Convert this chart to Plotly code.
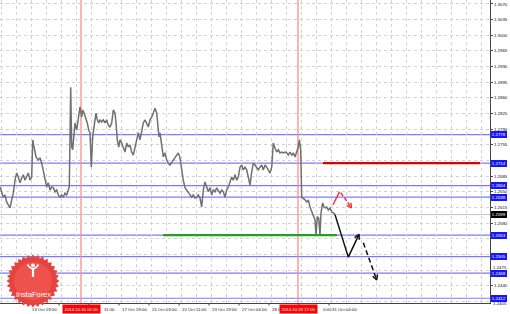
import numpy as np
import plotly.graph_objects as go

# ---------------- data ----------------
price_x = [
    0, 1.7, 3.3, 5, 6.7, 8.3, 10, 11.7, 13.3, 15,
    16.7, 18.3, 20, 21.7, 23.3, 25, 26.7, 28.3, 30, 31.7,
    32.7, 34, 36, 38.3, 40, 41.7, 43.3, 45, 46.7, 48.3,
    50, 51.7, 53.3, 55, 56.7, 58.3, 60, 61.7, 63.3, 65,
    66.7, 68.3, 69.3, 70.7, 71.7, 72.7, 74, 75, 76.7, 78.3,
    80, 81.7, 82.7, 84, 86, 87.3, 88.7, 90, 91.3, 92.7,
    94, 96, 97.3, 98.7, 100, 101.7, 103.3, 105, 106.7, 108.3,
    110, 111.7, 113.3, 115, 116, 117.3, 118.7, 120, 121.7, 123.3,
    125, 126.7, 128.3, 130, 131.7, 133.3, 135, 136.7, 138.3, 140,
    141.7, 143.3, 145, 146.7, 148.3, 150, 151.7, 153.3, 155, 156.7,
    157.7, 159, 160, 161.7, 163.3, 165, 166.7, 168.3, 170, 173.3,
    176.7, 178.3, 180, 181.7, 183.3, 185, 186.7, 188.3, 190, 191.7,
    193.3, 195, 196.7, 198.3, 200, 201.7, 203.3, 205, 206.7, 208.3,
    210, 211.7, 213.3, 215, 216.7, 218.3, 220, 221.7, 223.3, 225,
    226.7, 228.3, 230, 231.7, 233.3, 235, 236.7, 238.3, 240, 241.7,
    243.3, 245, 246.7, 248.3, 250, 251.7, 253.3, 255, 256.7, 258.3,
    260, 261.7, 263.3, 265, 266.7, 268.3, 270, 271.7, 273.3, 275,
    276.7, 278.3, 280, 281.7, 283.3, 285, 286.7, 288.3, 290, 291.7,
    293.3, 295, 296.7, 298.3, 299.3, 300.7, 301.7, 303.3, 305, 306.7,
    308.3, 310, 311.7, 313.3, 315, 316, 317.3, 318.7, 320, 321,
    322.7, 324, 325.3, 326.7, 328.3, 330, 331.7, 333.3, 335,
]
price_y = [
    1.2661, 1.2650, 1.2638, 1.2643, 1.2627, 1.2621, 1.2614, 1.2632, 1.2647, 1.2676,
    1.2692, 1.2683, 1.2670, 1.2681, 1.2688, 1.2676, 1.2683, 1.2692, 1.2676, 1.2683,
    1.2766, 1.2750, 1.2728, 1.2721, 1.2726, 1.2714, 1.2699, 1.2676, 1.2661, 1.2670,
    1.2654, 1.2661, 1.2659, 1.2650, 1.2654, 1.2643, 1.2638, 1.2643, 1.2638, 1.2647,
    1.2643, 1.2654, 1.2661, 1.2884, 1.2750, 1.2744, 1.2782, 1.2804, 1.2788, 1.2817,
    1.2840, 1.2817, 1.2833, 1.2826, 1.2815, 1.2804, 1.2788, 1.2782, 1.2705, 1.2773,
    1.2795, 1.2826, 1.2811, 1.2804, 1.2811, 1.2806, 1.2811, 1.2804, 1.2811, 1.2799,
    1.2795, 1.2804, 1.2833, 1.2826, 1.2804, 1.2766, 1.2750, 1.2766, 1.2759, 1.2750,
    1.2739, 1.2759, 1.2750, 1.2755, 1.2739, 1.2732, 1.2750, 1.2773, 1.2782, 1.2766,
    1.2788, 1.2804, 1.2811, 1.2804, 1.2795, 1.2811, 1.2817, 1.2826, 1.2837, 1.2826,
    1.2804, 1.2773, 1.2782, 1.2759, 1.2728, 1.2737, 1.2721, 1.2714, 1.2710, 1.2721,
    1.2732, 1.2737, 1.2726, 1.2694, 1.2676, 1.2659, 1.2654, 1.2647, 1.2643, 1.2638,
    1.2643, 1.2636, 1.2638, 1.2643, 1.2636, 1.2616, 1.2654, 1.2672, 1.2661, 1.2650,
    1.2659, 1.2643, 1.2654, 1.2650, 1.2659, 1.2654, 1.2647, 1.2654, 1.2650, 1.2638,
    1.2654, 1.2661, 1.2672, 1.2683, 1.2676, 1.2688, 1.2676, 1.2683, 1.2705, 1.2710,
    1.2699, 1.2705, 1.2699, 1.2683, 1.2665, 1.2694, 1.2714, 1.2710, 1.2705, 1.2699,
    1.2705, 1.2710, 1.2699, 1.2710, 1.2705, 1.2699, 1.2692, 1.2705, 1.2759, 1.2748,
    1.2739, 1.2744, 1.2737, 1.2739, 1.2737, 1.2739, 1.2737, 1.2732, 1.2739, 1.2732,
    1.2737, 1.2728, 1.2739, 1.2750, 1.2766, 1.2744, 1.2638, 1.2636, 1.2632, 1.2627,
    1.2632, 1.2616, 1.2605, 1.2594, 1.2587, 1.2553, 1.2594, 1.2591, 1.2553, 1.2603,
    1.2625, 1.2616, 1.2614, 1.2616, 1.2609, 1.2614, 1.2605, 1.2603, 1.2599,
]
assert len(price_x) == len(price_y)

# right-axis ticks (labels hidden behind level boxes are left blank, as in the reference)
tick_values = [1.3070, 1.3035, 1.3000, 1.2965, 1.2930, 1.2895, 1.2860, 1.2825,
               1.2790, 1.2755, 1.2720, 1.2685, 1.2650, 1.2615, 1.2580, 1.2545,
               1.2510, 1.2475, 1.2440, 1.2405]
tick_labels = ["1.3070", "1.3035", "1.3000", "1.2965", "1.2930", "1.2895", "1.2860",
               "1.2825", "1.2790", "1.2755", "", "1.2685", "1.2650", "1.2615",
               "1.2580", "", "", "", "1.2440", ""]
# tick labels squeezed next to level boxes, nudged a little (value, label, pixel nudge)
nudged_ticks = [1.2475, 1.2405]
nudged_labels = ["1.2475", "1.2405"]
nudged_shift = [2.2, -2.2]

level_values = [1.2778, 1.2714, 1.2664, 1.2638, 1.2553, 1.2505, 1.2468, 1.2412]
level_labels = ["1.2778", "1.2714", "1.2664", "1.2638", "1.2553", "1.2505", "1.2468", "1.2412"]
current_price = 1.2599
current_label = "1.2599"

resistance = 1.2714
resistance_x = [323, 480]
support = 1.2553
support_x = [163, 337]

# time-axis labels (only the parts not covered by the red boxes are visible)
time_pos = [-1, 29, 101, 119, 149, 179, 209, 239, 269, 320, 329]
time_labels = ["10 Oct 11:00", "13 Oct 19:00", "11:00", "17 Oct 19:00",
               "21 Oct 03:00", "22 Oct 11:00", "23 Oct 19:00", "27 Oct 04:00",
               "28 O", "0:00", "31 Oct 04:00"]
tickmark_pos = [-1, 29, 59, 89, 119, 149, 179, 209, 239, 269, 299, 329]
vline_x = [81, 298]
vline_labels = ["2014.10.16 02:00", "2014.10.29 17:00"]

fc_black_solid_x = [335, 348.3, 359]
fc_black_solid_y = [1.2599, 1.2504, 1.2555]
fc_black_dash_x = [363.3, 376.7]
fc_black_dash_y = [1.2536, 1.2453]
fc_red_solid_x = [333, 339.5]
fc_red_solid_y = [1.2621, 1.2650]
fc_red_dash_x = [340.8, 351.5]
fc_red_dash_y = [1.2648, 1.2614]

# ---------------- geometry helpers ----------------
W, H = 510, 314
ML, MR, MT, MB = 0, 20, 0, 11
PW, PH = W - ML - MR, H - MT - MB
X_MIN, X_MAX = 0, 490
Y_MIN, Y_MAX = 1.24014, 1.30789
FONT = "Liberation Sans"


def to_px(x, y):
    return (x - X_MIN) / (X_MAX - X_MIN) * PW, (Y_MAX - y) / (Y_MAX - Y_MIN) * PH


def from_px(px, py):
    return X_MIN + px / PW * (X_MAX - X_MIN), Y_MAX - py / PH * (Y_MAX - Y_MIN)


def head(x0, y0, x1, y1, L=5.5, ang=28):
    p0 = np.array(to_px(x0, y0))
    p1 = np.array(to_px(x1, y1))
    d = p1 - p0
    d = d / np.linalg.norm(d)
    pts = []
    for s in (1, -1):
        a = np.radians(ang * s)
        r = np.array([d[0] * np.cos(a) - d[1] * np.sin(a),
                      d[0] * np.sin(a) + d[1] * np.cos(a)])
        pts.append(from_px(*(p1 - L * r)))
    return [pts[0][0], x1, pts[1][0]], [pts[0][1], y1, pts[1][1]]


def pxp(px, py):  # pixel -> paper
    return px / PW, 1 - py / PH


fig = go.Figure()

fig.add_trace(go.Scatter(x=price_x, y=price_y, mode="lines",
                         line=dict(color="#707070", width=1.5), hoverinfo="skip"))
fig.add_trace(go.Scatter(x=support_x, y=[support, support], mode="lines",
                         line=dict(color="#22a022", width=2.2)))
fig.add_trace(go.Scatter(x=resistance_x, y=[resistance, resistance], mode="lines",
                         line=dict(color="#dd0000", width=2.2)))

BLK = "#111111"
RED = "#ff2a2a"
fig.add_trace(go.Scatter(x=fc_black_solid_x, y=fc_black_solid_y, mode="lines",
                         line=dict(color=BLK, width=1.5)))
hx, hy = head(fc_black_solid_x[-2], fc_black_solid_y[-2], fc_black_solid_x[-1], fc_black_solid_y[-1])
fig.add_trace(go.Scatter(x=hx, y=hy, mode="lines", line=dict(color=BLK, width=1.5)))
fig.add_trace(go.Scatter(x=fc_black_dash_x, y=fc_black_dash_y, mode="lines",
                         line=dict(color=BLK, width=1.5, dash="5px,3px")))
hx, hy = head(fc_black_dash_x[0], fc_black_dash_y[0], fc_black_dash_x[1], fc_black_dash_y[1])
fig.add_trace(go.Scatter(x=hx, y=hy, mode="lines", line=dict(color=BLK, width=1.5)))

fig.add_trace(go.Scatter(x=fc_red_solid_x, y=fc_red_solid_y, mode="lines",
                         line=dict(color=RED, width=1.4)))
fig.add_trace(go.Scatter(x=fc_red_dash_x, y=fc_red_dash_y, mode="lines",
                         line=dict(color=RED, width=1.4, dash="4px,2px")))
hx, hy = head(fc_red_dash_x[0], fc_red_dash_y[0], fc_red_dash_x[1], fc_red_dash_y[1], L=5)
fig.add_trace(go.Scatter(x=hx, y=hy, mode="lines", line=dict(color=RED, width=1.4)))

shapes = []
for v in level_values:
    shapes.append(dict(type="line", xref="paper", yref="y", x0=0, x1=1, y0=v, y1=v,
                       line=dict(color="#7a7aff", width=1.2), layer="between"))
shapes.append(dict(type="line", xref="paper", yref="y", x0=0, x1=1,
                   y0=current_price, y1=current_price,
                   line=dict(color="#c4c4c4", width=1), layer="between"))
for vx in vline_x:
    shapes.append(dict(type="line", xref="x", yref="paper", x0=vx, x1=vx, y0=0, y1=1,
                       line=dict(color="#ff8a8a", width=1.3), layer="between"))
for tx in tickmark_pos:
    shapes.append(dict(type="line", xref="x", yref="paper", x0=tx, x1=tx, y0=0,
                       y1=-2.5 / PH, line=dict(color="#444", width=1)))

# logo
cx, cy, R, r, N = 33, 281, 26.5, 23.5, 32
pts = []
for i in range(2 * N):
    rad = R if i % 2 == 0 else r
    a = np.pi * i / N
    pts.append(pxp(cx + rad * np.cos(a), cy + rad * np.sin(a)))
path = "M " + " L ".join(f"{p[0]:.5f},{p[1]:.5f}" for p in pts) + " Z"
shapes.append(dict(type="path", xref="paper", yref="paper", path=path,
                   fillcolor="#e4443f", line=dict(width=0), layer="above"))
c0 = pxp(cx - 19, cy - 19)
c1 = pxp(cx + 19, cy + 19)
shapes.append(dict(type="circle", xref="paper", yref="paper", x0=c0[0], x1=c1[0],
                   y0=c0[1], y1=c1[1], fillcolor="rgba(245,95,90,0.55)",
                   line=dict(width=0), layer="above"))
h0 = pxp(cx - 2, 263.5)
h1 = pxp(cx + 2, 267.5)
shapes.append(dict(type="circle", xref="paper", yref="paper", x0=h0[0], x1=h1[0],
                   y0=h0[1], y1=h1[1], fillcolor="white", line=dict(width=0), layer="above"))
a1 = pxp(cx - 5.5, 264.5)
a2 = pxp(cx, 273)
a3 = pxp(cx + 5.5, 264.5)
shapes.append(dict(type="path", xref="paper", yref="paper",
                   path=f"M {a1[0]},{a1[1]} Q {a2[0]},{a2[1]} {a3[0]},{a3[1]}",
                   line=dict(color="white", width=1.6), layer="above"))
b1 = pxp(cx, 269)
b2 = pxp(cx, 277)
shapes.append(dict(type="line", xref="paper", yref="paper", x0=b1[0], x1=b2[0],
                   y0=b1[1], y1=b2[1], line=dict(color="white", width=2.2), layer="above"))

annotations = []
for v, t, s in zip(nudged_ticks, nudged_labels, nudged_shift):
    annotations.append(dict(x=1, xref="paper", y=v, yref="y", xanchor="left", yanchor="middle",
                            xshift=2.5, yshift=s, text=t, showarrow=False, borderpad=0,
                            borderwidth=0,
                            font=dict(family=FONT, size=4.4, color="#111")))
for v, t in zip(level_values, level_labels):
    annotations.append(dict(x=1, xref="paper", y=v, yref="y", xanchor="left", yanchor="middle",
                            xshift=1, text=t, showarrow=False, bgcolor="#1414ff",
                            borderpad=0.8, borderwidth=0,
                            font=dict(family=FONT, size=4.4, color="white")))
annotations.append(dict(x=1, xref="paper", y=current_price, yref="y", xanchor="left",
                        yanchor="middle", xshift=1, text=current_label, showarrow=False,
                        bgcolor="#000000", borderpad=0.8, borderwidth=0,
                        font=dict(family=FONT, size=4.4, color="white")))
ty = 1 - 309 / PH
for tx, t in zip(time_pos, time_labels):
    annotations.append(dict(x=tx + 0.5, xref="x", y=ty, yref="paper", xanchor="left",
                            yanchor="middle", text=t, showarrow=False,
                            font=dict(family=FONT, size=4.3, color="#111")))
for vx, t in zip(vline_x, vline_labels):
    annotations.append(dict(x=vx, xref="x", y=ty, yref="paper", xanchor="center",
                            yanchor="middle", text=t, showarrow=False, bgcolor="#ff0000",
                            borderpad=1.5, font=dict(family=FONT, size=4.3, color="white")))
lt = pxp(cx, 294)
annotations.append(dict(x=lt[0], xref="paper", y=lt[1], yref="paper", text="InstaForex",
                        showarrow=False, xanchor="center", yanchor="middle",
                        font=dict(family=FONT, size=7.4, color="white")))

fig.update_layout(
    width=W, height=H, margin=dict(l=ML, r=MR, t=MT, b=MB),
    paper_bgcolor="white", plot_bgcolor="white", showlegend=False,
    shapes=shapes, annotations=annotations,
    xaxis=dict(range=[X_MIN, X_MAX], tick0=1.5, dtick=15, showticklabels=False,
               ticks="", showgrid=True, gridcolor="#d2d2d2", griddash="3px,3px",
               gridwidth=1, zeroline=False, showline=True, linecolor="#444", linewidth=1,
               fixedrange=True),
    yaxis=dict(range=[Y_MIN, Y_MAX], side="right", tickmode="array",
               tickvals=tick_values, ticktext=tick_labels, ticks="outside", ticklen=2,
               tickcolor="#444", tickfont=dict(family=FONT, size=4.4, color="#111"),
               showgrid=True, gridcolor="#d2d2d2", griddash="3px,3px", gridwidth=1,
               zeroline=False, showline=True, linecolor="#444", linewidth=1,
               fixedrange=True),
)

fig.write_html("out.html")
